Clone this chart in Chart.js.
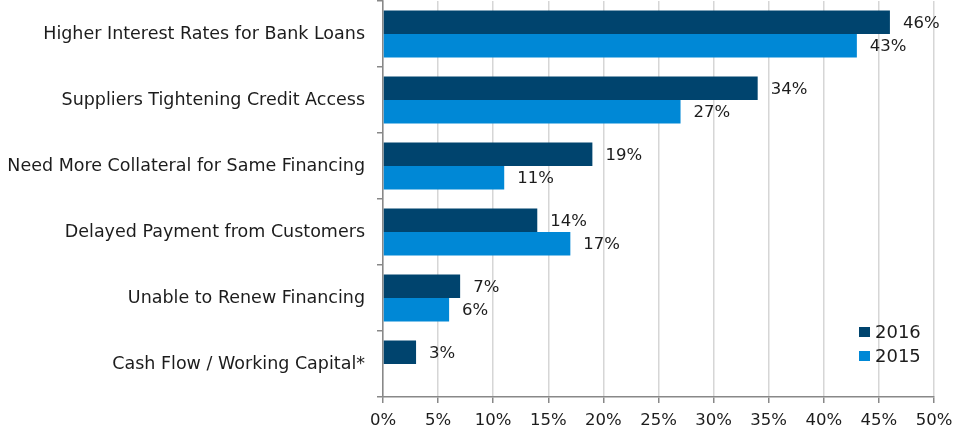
<!DOCTYPE html>
<html><head><meta charset="utf-8">
<script src="https://cdn.jsdelivr.net/npm/chart.js@4/dist/chart.umd.min.js"></script>
<style>html,body{margin:0;padding:0;background:#fff}#wrap{width:956px;height:426px;position:relative}</style>
</head><body><div id="wrap"><canvas id="c" width="956" height="426"></canvas></div>
<script>
const categories = ["Higher Interest Rates for Bank Loans","Suppliers Tightening Credit Access","Need More Collateral for Same Financing","Delayed Payment from Customers","Unable to Renew Financing","Cash Flow / Working Capital*"];
const values2016 = [46, 34, 19, 14, 7, 3];
const values2015 = [43, 27, 11, 17, 6, null];
const seriesNames = ["2016", "2015"];
const tickValues = [0,5,10,15,20,25,30,35,40,45,50];
const FONT = "'DejaVu Sans', sans-serif";
const TXT = "#1c1c1c";

const labelPlugin = {
  id: 'valLabels',
  afterDatasetsDraw(chart) {
    const ctx = chart.ctx;
    ctx.save();
    ctx.font = "16.5px " + FONT;
    ctx.fillStyle = TXT;
    ctx.textBaseline = "middle";
    ctx.textAlign = "left";
    chart.data.datasets.forEach((ds, i) => {
      chart.getDatasetMeta(i).data.forEach((bar, j) => {
        const v = ds.data[j];
        if (v == null) return;
        ctx.fillText(v + "%", bar.x + 13, bar.y + 1);
      });
    });
    ctx.restore();
  }
};
const legendPlugin = {
  id: 'innerLegend',
  afterDraw(chart) {
    const ctx = chart.ctx;
    const a = chart.chartArea;
    ctx.save();
    ctx.font = "18px " + FONT;
    ctx.textBaseline = "middle";
    ctx.textAlign = "left";
    chart.data.datasets.forEach((ds, i) => {
      const x = a.right - 75, y = a.bottom - 65 + i * 24;
      ctx.fillStyle = ds.backgroundColor;
      ctx.fillRect(x, y - 5, 11, 10);
      ctx.fillStyle = TXT;
      ctx.fillText(ds.label, x + 16, y + 1);
    });
    ctx.restore();
  }
};
function noPad(s) { s.paddingTop = 0; s.paddingBottom = 0; s.paddingLeft = 0; s.paddingRight = 0; }

new Chart(document.getElementById('c'), {
  type: 'bar',
  data: {
    labels: categories,
    datasets: [
      {label: seriesNames[0], data: values2016, backgroundColor: '#00446E', borderWidth: 0, categoryPercentage: 0.71, barPercentage: 1},
      {label: seriesNames[1], data: values2015, backgroundColor: '#0088D6', borderWidth: 0, categoryPercentage: 0.71, barPercentage: 1}
    ]
  },
  options: {
    indexAxis: 'y',
    responsive: false,
    animation: false,
    layout: {padding: {top: 1, right: 22, bottom: 0, left: 0}},
    plugins: {legend: {display: false}, tooltip: {enabled: false}},
    scales: {
      x: {
        min: 0, max: 50,
        afterBuildTicks(s) { s.ticks = tickValues.map(v => ({value: v})); },
        afterFit(s) { s.height = 29; noPad(s); },
        ticks: {callback: v => v + "%", color: TXT, font: {family: FONT, size: 16.5}, padding: 8, maxRotation: 0},
        grid: {color: "#d6d6d6", lineWidth: 1.5, tickLength: 6, drawTicks: true, tickColor: "#888"},
        border: {color: "#888", width: 1.5}
      },
      y: {
        afterFit(s) { s.width = 383; noPad(s); },
        ticks: {color: TXT, font: {family: FONT, size: 17.5}, padding: 12},
        grid: {drawOnChartArea: false, drawTicks: true, tickLength: 6, offset: true, color: "#888", lineWidth: 1.5},
        border: {color: "#888", width: 1.5}
      }
    }
  },
  plugins: [labelPlugin, legendPlugin]
});
</script></body></html>
